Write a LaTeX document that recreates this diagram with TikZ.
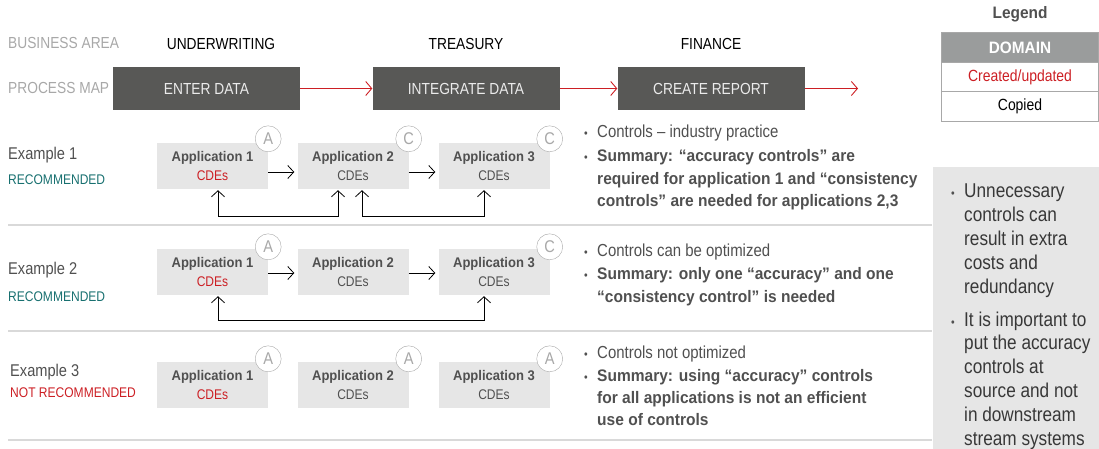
\documentclass[tikz,border=0pt]{standalone}
\usepackage{fontspec}
\setmainfont{Liberation Sans}[UprightFeatures={FakeStretch=0.86}, BoldFeatures={FakeStretch=0.93}]
\usetikzlibrary{arrows.meta}
\definecolor{darkbox}{HTML}{585856}
\definecolor{txtgray}{HTML}{505050}
\definecolor{lgray}{HTML}{A8A8A8}
\definecolor{boxgray}{HTML}{E6E6E6}
\definecolor{myred}{HTML}{CC1F24}
\definecolor{myteal}{HTML}{187070}
\definecolor{legendhead}{HTML}{9A9C9C}
\definecolor{sepgray}{HTML}{D9D9D9}
\tikzset{
  proc/.style={fill=darkbox, minimum width=187, minimum height=43, inner sep=0, text=white!92!black, font=\fontsize{16}{18}\selectfont},
  area/.style={text=black, font=\fontsize{16}{18}\selectfont},
  rowlab/.style={text=lgray, font=\fontsize{16}{18}\selectfont, anchor=west, inner sep=0},
  app/.style={fill=boxgray, minimum width=111, minimum height=46, inner sep=0, align=center, text=txtgray, font=\fontsize{14}{18.5}\selectfont},
  circ/.style={circle, draw=lgray, fill=white, minimum size=26, inner sep=0, text=lgray, font=\fontsize{17}{17}\selectfont},
  redarr/.style={draw=myred, line width=0.9pt, -{Straight Barb[length=6pt, width=14pt, line width=0.9pt]}},
  harr/.style={draw=black, line width=0.8pt, shorten >=3pt, -{Straight Barb[length=6pt, width=13pt, line width=0.8pt]}},
  fb/.style={draw=black, line width=0.8pt, shorten <=1pt, shorten >=1pt, {Straight Barb[length=6pt, width=13pt, line width=0.8pt]}-{Straight Barb[length=6pt, width=13pt, line width=0.8pt]}},
  exlab/.style={text=txtgray, font=\fontsize{17}{18}\selectfont, anchor=west, inner sep=0},
  reclab/.style={font=\fontsize{14}{16}\selectfont, anchor=west, inner sep=0},
  ctl/.style={text=txtgray, font=\fontsize{17.4}{18}\selectfont, anchor=base west, inner sep=0},
  sumb/.style={text=txtgray, font=\bfseries\fontsize{16.7}{18}\selectfont, anchor=base west, inner sep=0},
  bul/.style={text=txtgray, font=\fontsize{12}{12}\selectfont, anchor=base west, inner sep=0},
  sep/.style={draw=sepgray, line width=1.3pt},
  side/.style={text=txtgray!70!black, font=\fontsize{20}{22}\selectfont, anchor=base west, inner sep=0},
  leg/.style={minimum width=156, minimum height=29, inner sep=0, font=\fontsize{16.2}{18}\selectfont}
}
\begin{document}
\begin{tikzpicture}[x=1pt,y=-1pt]
\useasboundingbox (0,0) rectangle (1099,449);
% right side panel
\fill[boxgray] (933,167) rectangle (1099,449);
% legend
\node[text=txtgray, font=\bfseries\fontsize{16.6}{18}\selectfont] (legt) at (1020,14) {Legend};
\node[leg, fill=legendhead, text=white, font=\bfseries\fontsize{16.5}{18}\selectfont] (l1) at (1020,47.5) {DOMAIN};
\node[leg, text=myred, anchor=north] (l2) at (l1.south) {Created/updated};
\node[leg, text=black, anchor=north] (l3) at (l2.south) {Copied};
\draw[lgray, line width=0.8pt] (l1.north west) rectangle (l3.south east);
\draw[lgray, line width=0.8pt] (l2.north west) -- (l2.north east);
\draw[lgray, line width=0.8pt] (l3.north west) -- (l3.north east);
% header rows
\node[rowlab] (ba) at (8,43) {BUSINESS AREA};
\node[rowlab] (pm) at (8,88) {PROCESS MAP};
\node[area] (u) at (221,44) {UNDERWRITING};
\node[area] (t) at (466,44) {TREASURY};
\node[area] (f) at (711,44) {FINANCE};
\node[proc] (p1) at (206.5,88.5) {ENTER DATA};
\node[proc] (p2) at (466,88.5) {INTEGRATE DATA};
\node[proc] (p3) at (711,88.5) {CREATE REPORT};
\coordinate (pend) at (858,88.5);
\draw[redarr] (p1) -- (p2);
\draw[redarr] (p2) -- (p3);
\draw[redarr] (p3) -- (pend);
% ---------- Example 1
\node[exlab] (e1) at (8,155) {Example 1};
\node[reclab, text=myteal] (r1) at (8,180) {RECOMMENDED};
\node[app] (a11) at (212.5,166) {\textbf{Application 1}\\\textcolor{myred}{CDEs}};
\node[app] (a12) at (353,166) {\textbf{Application 2}\\CDEs};
\node[app] (a13) at (494,166) {\textbf{Application 3}\\CDEs};
\node[circ] (c11) at ([yshift=4]a11.north east) {A};
\node[circ] (c12) at ([yshift=4]a12.north east) {C};
\node[circ] (c13) at ([yshift=4]a13.north east) {C};
\draw[harr] ([yshift=-6]a11.east) -- ([yshift=-6]a12.west);
\draw[harr] ([yshift=-6]a12.east) -- ([yshift=-6]a13.west);
\draw[fb] ([xshift=5.5]a11.south) -- ++(0,27) -| ([xshift=-15]a12.south);
\draw[fb] ([xshift=9]a12.south) -- ++(0,27) -| ([xshift=-10]a13.south);
\node[bul] (b11) at (584,138) {•};
\node[ctl] (t11) at (597,138) {Controls – industry practice};
\node[bul] (b12) at (584,161) {•};
\node[sumb] (t12) at (597,161) {Summary: “accuracy controls” are};
\node[sumb] (t13) at (597,184) {required for application 1 and “consistency};
\node[sumb] (t14) at (597,206) {controls” are needed for applications 2,3};
\draw[sep] (8,225) -- (932,225);
% ---------- Example 2
\node[exlab] (e2) at (8,270) {Example 2};
\node[reclab, text=myteal] (r2) at (8,297) {RECOMMENDED};
\node[app] (a21) at (212.5,272) {\textbf{Application 1}\\\textcolor{myred}{CDEs}};
\node[app] (a22) at (353,272) {\textbf{Application 2}\\CDEs};
\node[app] (a23) at (494,272) {\textbf{Application 3}\\CDEs};
\node[circ] (c21) at ([yshift=2]a21.north east) {A};
\node[circ] (c23) at ([yshift=2]a23.north east) {C};
\draw[harr] ([yshift=-1]a21.east) -- ([yshift=-1]a22.west);
\draw[harr] ([yshift=-1]a22.east) -- ([yshift=-1]a23.west);
\draw[fb] ([xshift=5.5]a21.south) -- ++(0,25) -| ([xshift=-10]a23.south);
\node[bul] (b21) at (584,256) {•};
\node[ctl] (t21) at (597,256) {Controls can be optimized};
\node[bul] (b22) at (584,279) {•};
\node[sumb] (t22) at (597,279) {Summary: only one “accuracy” and one};
\node[sumb] (t23) at (597,302) {“consistency control” is needed};
\draw[sep] (8,331) -- (932,331);
% ---------- Example 3
\node[exlab] (e3) at (10,372) {Example 3};
\node[reclab, text=myred] (r3) at (10,393) {NOT RECOMMENDED};
\node[app] (a31) at (212.5,385) {\textbf{Application 1}\\\textcolor{myred}{CDEs}};
\node[app] (a32) at (353,385) {\textbf{Application 2}\\CDEs};
\node[app] (a33) at (494,385) {\textbf{Application 3}\\CDEs};
\node[circ] (c31) at ([yshift=3]a31.north east) {A};
\node[circ] (c32) at ([yshift=3]a32.north east) {A};
\node[circ] (c33) at ([yshift=3]a33.north east) {A};
\node[bul] (b31) at (584,358) {•};
\node[ctl] (t31) at (597,358) {Controls not optimized};
\node[bul] (b32) at (584,381) {•};
\node[sumb] (t32) at (597,381) {Summary: using “accuracy” controls};
\node[sumb] (t33) at (597,403) {for all applications is not an efficient};
\node[sumb] (t34) at (597,425) {use of controls};
\draw[sep] (8,440) -- (932,440);
% ---------- side panel text
\node[bul] (sb1) at (951,197) {•};
\node[side] (s1) at (964,197) {Unnecessary};
\node[side] (s2) at (964,221) {controls can};
\node[side] (s3) at (964,245) {result in extra};
\node[side] (s4) at (964,269) {costs and};
\node[side] (s5) at (964,293) {redundancy};
\node[bul] (sb2) at (951,326) {•};
\node[side] (s6) at (964,326) {It is important to};
\node[side] (s7) at (964,349) {put the accuracy};
\node[side] (s8) at (964,373) {controls at};
\node[side] (s9) at (964,397) {source and not};
\node[side] (s10) at (964,421) {in downstream};
\node[side] (s11) at (964,445) {stream systems};
\end{tikzpicture}
\end{document}
